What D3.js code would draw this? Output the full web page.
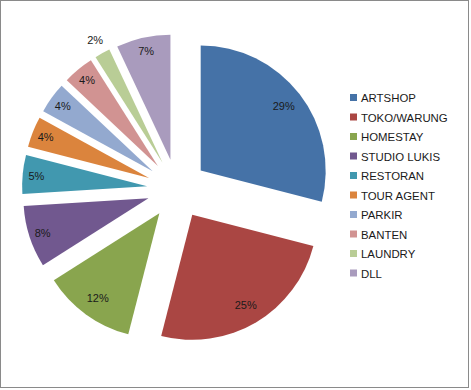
<!DOCTYPE html>
<html><head><meta charset="utf-8">
<script src="https://cdn.jsdelivr.net/npm/d3@7"></script>
<style>body{margin:0;background:#fff}svg{display:block}</style>
</head><body>
<svg id="c" width="471" height="390"></svg>
<script>
const categories = ["ARTSHOP","TOKO/WARUNG","HOMESTAY","STUDIO LUKIS","RESTORAN","TOUR AGENT","PARKIR","BANTEN","LAUNDRY","DLL"];
const values = [29,25,12,8,5,4,4,4,2,7];
const colors = ["#4572A7","#AA4643","#89A54E","#71588F","#4198AF","#DB843D","#93A9CF","#D19392","#B9CD96","#A99BBD"];

const svg = d3.select("#c");
svg.append("rect").attr("x",0.5).attr("y",0.5).attr("width",468).attr("height",387)
  .attr("fill","#fff").attr("stroke","#8a8a8a").attr("stroke-width",1);

const cx = 177, cy = 189, r = 125, explode = 30;
const pie = d3.pie().sort(null).value(d=>d);
const arcs = pie(values);
const arc = d3.arc().innerRadius(0).outerRadius(r);
const total = d3.sum(values);
const g = svg.append("g").attr("transform",`translate(${cx},${cy})`);

arcs.forEach((a,i)=>{
  const mid = (a.startAngle+a.endAngle)/2;
  const ox = explode*Math.sin(mid), oy = -explode*Math.cos(mid);
  const sg = g.append("g").attr("transform",`translate(${ox},${oy})`);
  sg.append("path").attr("d",arc(a)).attr("fill",colors[i]);
  const pct = Math.round(values[i]/total*100)+"%";
  const lr = values[i] <= 2 ? r+15 : (values[i] >= 10 ? r*0.84 : r*0.89);
  sg.append("text").attr("x",lr*Math.sin(mid)).attr("y",-lr*Math.cos(mid))
    .attr("text-anchor","middle").attr("dominant-baseline","central")
    .attr("font-family","Liberation Sans, Arial, sans-serif").attr("font-size",11)
    .attr("fill","#1a1a1a").text(pct);
});

const leg = svg.append("g");
categories.forEach((c,i)=>{
  const y = 98 + i*19.5;
  leg.append("rect").attr("x",350).attr("y",y-4).attr("width",7).attr("height",7).attr("fill",colors[i]);
  leg.append("text").attr("x",361).attr("y",y).attr("dominant-baseline","central")
    .attr("font-family","Liberation Sans, Arial, sans-serif").attr("font-size",11.4)
    .attr("fill","#1a1a1a").text(c);
});
</script>
</body></html>
